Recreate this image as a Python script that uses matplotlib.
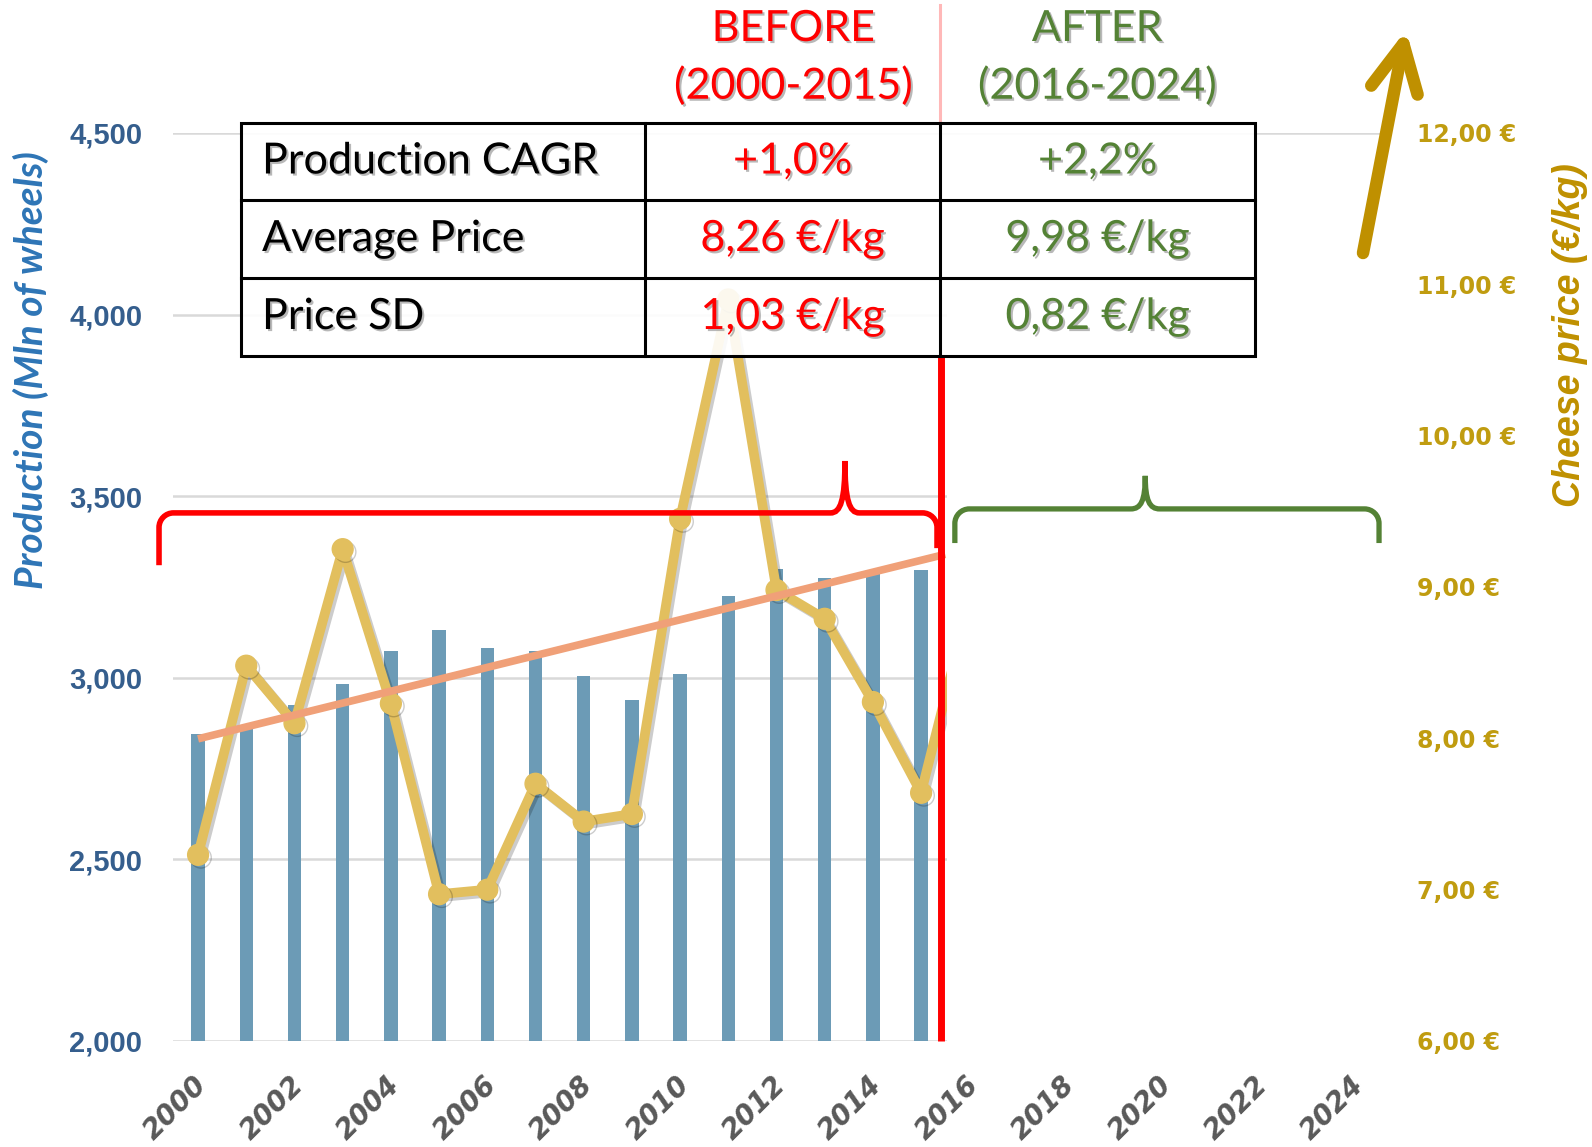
import matplotlib
matplotlib.use('Agg')
import matplotlib.pyplot as plt
import matplotlib.patheffects as pe
from matplotlib.path import Path
from matplotlib.patches import PathPatch, Rectangle, FancyArrowPatch
from matplotlib.lines import Line2D
from matplotlib.transforms import ScaledTranslation

# ---------------- data ----------------
years = list(range(2000, 2016))
production = [2846, 2868, 2925, 2984, 3073, 3132, 3083, 3073, 3006, 2940,
              3011, 3225, 3300, 3275, 3291, 3297]
price_years = list(range(2000, 2017))
price = [7.23, 8.48, 8.10, 9.25, 8.23, 6.97, 7.00, 7.70, 7.45, 7.50,
         9.45, 10.90, 8.98, 8.79, 8.24, 7.64, 8.90]
trend_years = [2000, 2015.5]
trend_values = [2832, 3340]
xtick_years = list(range(2000, 2025, 2))
left_ticks = [2000, 2500, 3000, 3500, 4000, 4500]
right_ticks = [6, 7, 8, 9, 10, 11, 12]
row_labels = ["Production CAGR", "Average Price", "Price SD"]
before_vals = ["+1,0%", "8,26 €/kg", "1,03 €/kg"]
after_vals = ["+2,2%", "9,98 €/kg", "0,82 €/kg"]
head_before = ["BEFORE", "(2000-2015)"]
head_after = ["AFTER", "(2016-2024)"]

RED = '#FF0000'
GREEN = '#548235'
GOLD = '#BF9000'
TICKGOLD = '#C09C10'
BLUE = '#2E75B6'

W, H = 1592, 1147
def fx(px): return px / W
def fy(py): return 1 - py / H

fig = plt.figure(figsize=(W / 100, H / 100), dpi=100)
ax = fig.add_axes([fx(173), fy(1041), fx(1380) - fx(173), fy(133) - fy(1041)])
ax2 = ax.twinx()

XMIN, XMAX = 1999.48, 2024.52
ax.set_xlim(XMIN, XMAX)
ax.set_ylim(2000, 4500)
ax2.set_ylim(6, 12)
for a in (ax, ax2):
    for s in a.spines.values():
        s.set_visible(False)

ax.set_yticks(left_ticks)
ax.set_yticklabels([f"{v:,}" for v in left_ticks])
ax.yaxis.grid(True, color='#D9D9D9', lw=1.8)
ax.set_axisbelow(True)
ax.tick_params(axis='y', length=0, pad=22, labelsize=21, labelcolor='#355E8D')
for t in ax.get_yticklabels():
    t.set_fontweight('bold')
    t.set_family('Liberation Sans')

ax2.set_yticks(right_ticks)
ax2.set_yticklabels([f"{v:.2f}".replace('.', ',') + " €" for v in right_ticks])
ax2.tick_params(axis='y', length=0, pad=27, labelsize=17, labelcolor=TICKGOLD)
for t in ax2.get_yticklabels():
    t.set_fontweight('bold')
    t.set_family('DejaVu Sans')

ax.set_xticks(xtick_years)
ax.set_xticklabels([str(y) for y in xtick_years])
ax.tick_params(axis='x', length=0, pad=29, labelsize=20, labelcolor='#595959')
for t in ax.get_xticklabels():
    t.set_rotation(45)
    t.set_rotation_mode('anchor')
    t.set_ha('right')
    t.set_va('center')
    t.set_fontweight('bold')
    t.set_fontstyle('italic')
    t.set_family('DejaVu Sans')
    t.set_transform(t.get_transform() + ScaledTranslation(5 / 100, 0, fig.dpi_scale_trans))

# bars
ax.bar(years, production, width=0.28, color='#6C9BB6', zorder=2)

# price line
ax2.plot(price_years, price, color='#E2BF5E', lw=7, marker='o', ms=15,
         solid_joinstyle='round', zorder=3,
         path_effects=[pe.SimpleLineShadow(offset=(2, -2), alpha=0.2), pe.Normal()])

# trend line
ax2.plot(trend_years, trend_values, color='#F0A078', lw=5.5, zorder=4,
         transform=ax.transData, solid_capstyle='butt')

# white mask over the 2016-2024 region of the plot
mask = Rectangle((2015.54, 1980), XMAX - 2015.54, 4470 - 1980, transform=ax.transData,
                 facecolor='white', edgecolor='none', zorder=1)
fig.add_artist(mask)

# red divider line
fig.add_artist(Line2D([fx(941), fx(941)], [fy(356), fy(1041)], color=RED, lw=5, zorder=5,
                      solid_capstyle='butt'))
fig.add_artist(Line2D([fx(940), fx(940)], [fy(5), fy(123)], color='#FFB8B8', lw=2.2, zorder=5))


def brace(x0, x1, xc, y, ytop, yb0, yb1, rx, ry, cw):
    verts = [(x0, yb0), (x0, y - ry), (x0, y - ry * 0.45), (x0 + rx * 0.45, y), (x0 + rx, y),
             (xc - cw, y), (xc - cw * 0.3, y), (xc, y + (ytop - y) * 0.25), (xc, ytop),
             (xc, y + (ytop - y) * 0.25), (xc + cw * 0.3, y), (xc + cw, y),
             (x1 - rx, y), (x1 - rx * 0.45, y), (x1, y - ry * 0.45), (x1, y - ry), (x1, yb1)]
    C = Path.CURVE4
    codes = [Path.MOVETO, Path.LINETO, C, C, C, Path.LINETO, C, C, C, C, C, C,
             Path.LINETO, C, C, C, Path.LINETO]
    return Path(verts, codes)


fig.add_artist(PathPatch(brace(1999.19, 2015.33, 2013.42, 3454, 3597, 3310, 3357, 0.3, 40, 0.3),
                         transform=ax.transData, facecolor='none', edgecolor=RED, lw=4,
                         capstyle='butt', zorder=6))
fig.add_artist(PathPatch(brace(2015.7, 2024.5, 2019.65, 3465, 3556, 3371, 3371, 0.3, 40, 0.3),
                         transform=ax.transData, facecolor='none', edgecolor=GREEN, lw=3.8,
                         capstyle='butt', zorder=6))

# table
shadow = [pe.withSimplePatchShadow(offset=(1.5, -1.5), shadow_rgbFace='#7F7F7F', alpha=0.55)]
tl, tr, tt, tb = 241, 1255, 123, 356
rows_y = [123, 200, 278, 356]
cols_x = [241, 645, 940, 1255]
fig.add_artist(Rectangle((fx(tl), fy(tb)), fx(tr) - fx(tl), fy(tt) - fy(tb),
                         transform=fig.transFigure, facecolor=(1, 1, 1, 0.9),
                         edgecolor='black', lw=2.2, zorder=10))
for ry_ in rows_y[1:-1]:
    fig.add_artist(Line2D([fx(tl), fx(tr)], [fy(ry_), fy(ry_)], color='black', lw=2.2, zorder=11))
for cx_ in cols_x[1:-1]:
    fig.add_artist(Line2D([fx(cx_), fx(cx_)], [fy(tt), fy(tb)], color='black', lw=2.2, zorder=11))

TS = 31
for i in range(3):
    yc = (rows_y[i] + rows_y[i + 1]) / 2
    fig.text(fx(262), fy(yc), row_labels[i], ha='left', va='center', fontsize=TS,
             family='Lato', color='black', zorder=12, path_effects=shadow)
    fig.text(fx((cols_x[1] + cols_x[2]) / 2), fy(yc), before_vals[i], ha='center', va='center',
             fontsize=TS, family='Lato', color=RED, zorder=12, path_effects=shadow)
    fig.text(fx((cols_x[2] + cols_x[3]) / 2), fy(yc), after_vals[i], ha='center', va='center',
             fontsize=TS, family='Lato', color=GREEN, zorder=12, path_effects=shadow)

# headers
for j, yy in enumerate([29, 86]):
    fig.text(fx(793), fy(yy), head_before[j], ha='center', va='center', fontsize=31,
             family='Lato', color=RED, zorder=12, path_effects=shadow)
    fig.text(fx(1097), fy(yy), head_after[j], ha='center', va='center', fontsize=31,
             family='Lato', color=GREEN, zorder=12, path_effects=shadow)

# axis titles
fig.text(fx(31), fy(370), "Production (Mln of wheels)", rotation=90, ha='center', va='center',
         fontsize=28, family='Lato', fontweight='bold', fontstyle='italic', color=BLUE)
fig.text(fx(1570), fy(335), "Cheese price (€/kg)", rotation=90, ha='center', va='center',
         fontsize=27, family=['Liberation Sans Narrow', 'Liberation Sans'], fontweight='bold',
         fontstyle='italic', color=GOLD)

# arrow
arrow = FancyArrowPatch(posA=(fx(1363), fy(253)), posB=(fx(1406), fy(30)),
                        transform=fig.transFigure,
                        arrowstyle='->,head_length=34,head_width=17', mutation_scale=1,
                        lw=9, color=GOLD, capstyle='round', joinstyle='round',
                        shrinkA=0, shrinkB=0, zorder=12)
fig.add_artist(arrow)

fig.savefig('out.png', dpi=100)
